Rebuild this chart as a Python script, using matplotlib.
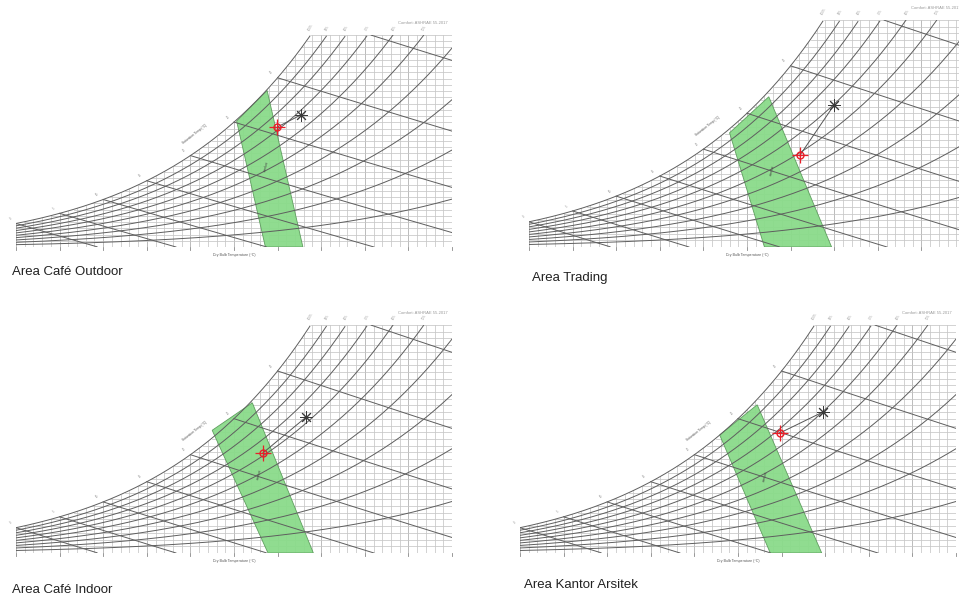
import numpy as np
import matplotlib
matplotlib.use("Agg")
import matplotlib.pyplot as plt

# --- values (dry bulb degC, humidity ratio g/kg)
captions = ["Area Café Outdoor", "Area Trading", "Area Café Indoor", "Area Kantor Arsitek"]
zone_t = [[25.3, 28.8, 32.9, 28.6],
          [23.0, 27.5, 34.7, 27.0],
          [22.5, 27.1, 34.1, 28.9],
          [22.9, 27.2, 34.6, 28.7]]
zone_w = [[20.2, 25.1, 0.0, 0.0],
          [17.1, 22.5, 0.0, 0.0],
          [18.3, 22.4, 0.0, 0.0],
          [17.6, 22.1, 0.0, 0.0]]
red_t = [29.9, 31.1, 28.3, 29.8]
red_w = [19.2, 13.8, 14.9, 17.9]
black_t = [32.7, 35.0, 33.3, 34.7]
black_w = [21.2, 21.3, 20.3, 21.0]

title = "Comfort: ASHRAE 55-2017"
xlabel = "Dry Bulb Temperature (°C)"
sat_label = "Saturation Temp (°C)"

T_MIN, T_MAX, W_MAX = 0, 50, 34
rh_levels = [10, 20, 30, 40, 50, 60, 70, 80, 90, 100]
wb_levels = [0, 5, 10, 15, 20, 25, 30, 35]

# panel boxes in pixels: left, bottom, top
boxes = [(16, 247, 35), (529, 247, 20), (16, 553, 325), (520, 553, 325)]
cap_pos = [(12, 272), (532, 278), (12, 590), (524, 585)]
PW = 436

W_FIG, H_FIG = 959, 598
fig = plt.figure(figsize=(W_FIG / 100, H_FIG / 100), dpi=100)
plt.rcParams['font.family'] = ['Liberation Sans', 'DejaVu Sans']


def psat(t):
    return 0.61094 * np.exp(17.625 * t / (t + 243.04))


def hum(t, rh):
    p = rh / 100.0 * psat(t)
    return 622.0 * p / (101.325 - p)


def wb_line(t, twb):
    ws = hum(twb, 100) / 1000.0
    w = ((2501 - 2.326 * twb) * ws - 1.006 * (t - twb)) / (2501 + 1.86 * t - 4.186 * twb)
    return w * 1000.0


tt = np.linspace(T_MIN, T_MAX, 400)
wsat = hum(tt, 100)
GRID = '#c6c6c6'
DARK = '#5e5e5e'

for i in range(4):
    l, b, t = boxes[i]
    ax = fig.add_axes([l / W_FIG, 1 - b / H_FIG, PW / W_FIG, (b - t) / H_FIG])
    ax.set_xlim(T_MIN, T_MAX)
    ax.set_ylim(0, W_MAX)
    for s in ax.spines.values():
        s.set_visible(False)
    ax.set_xticks([])
    ax.set_yticks([])

    # light grid: dry bulb lines and humidity ratio lines, clipped by saturation
    for x in range(T_MIN, T_MAX + 1):
        top = min(hum(x, 100), W_MAX)
        c = GRID if x % 5 else '#aaaaaa'
        ax.plot([x, x], [0, top], color=c, lw=0.55, zorder=1)
    for y in range(1, W_MAX + 1):
        ts = tt[np.argmax(wsat >= y)] if wsat.max() >= y else T_MAX
        ax.plot([ts, T_MAX], [y, y], color=GRID, lw=0.55, zorder=1)
    ax.plot([T_MAX, T_MAX], [0, W_MAX], color='#999999', lw=0.6, zorder=1)
    ax.plot([T_MIN, T_MAX], [0, 0], color='#bbbbbb', lw=0.6, zorder=1)

    # relative humidity curves
    for rh in rh_levels:
        w = hum(tt, rh)
        m = w <= W_MAX
        ax.plot(tt[m], w[m], color=DARK, lw=0.7, zorder=3)
        j = np.argmax(~m) if (~m).any() else None
        if j:
            ax.text(tt[j], W_MAX + 0.6, f"{rh}%", fontsize=2, color='#999999',
                    ha='center', va='bottom', rotation=60)

    # wet bulb lines
    for twb in wb_levels:
        x = np.linspace(twb, T_MAX, 200)
        w = wb_line(x, twb)
        m = (w <= W_MAX) & (w >= 0)
        ax.plot(x[m], w[m], color=DARK, lw=0.7, zorder=3)
        if hum(twb, 100) < W_MAX:
            ax.text(twb - 0.4, hum(twb, 100) + 0.4, str(twb), fontsize=2,
                    color='#888888', ha='right', va='bottom', rotation=40)

    for x in range(T_MIN, T_MAX + 1, 5):
        ax.plot([x, x], [0, -0.5], color='#888888', lw=0.6, clip_on=False)

    # comfort zone
    ax.fill(zone_t[i], zone_w[i], facecolor='#8adb8a', edgecolor='#5a9a5a',
            lw=0.6, alpha=0.95, zorder=2)
    cx = np.mean(zone_t[i])
    ax.text(cx - 0.2, np.mean(zone_w[i]) + 1.5, "comfort", fontsize=2.3,
            color='#444444', rotation=75, ha='center', va='center', zorder=4)

    # state points
    ax.plot([red_t[i], black_t[i]], [red_w[i], black_w[i]], color='#555555',
            lw=0.7, zorder=5)
    ax.plot(black_t[i], black_w[i], marker=(8, 2, 0), ms=9, color='#3a3a3a',
            mew=0.7, zorder=6)
    ax.plot(red_t[i], red_w[i], marker='o', ms=5, mfc='none', mec='#e8202a',
            mew=1.0, zorder=6)
    ax.plot(red_t[i], red_w[i], marker='+', ms=11, color='#e8202a', mew=0.9,
            zorder=6)

    ax.text(0.99, 1 + 12 / (b - t), title, transform=ax.transAxes, fontsize=3,
            color='#999999', ha='right', va='center')
    ax.text(0.5, -8 / (b - t), xlabel, transform=ax.transAxes, fontsize=2.6,
            color='#555555', ha='center', va='center')
    ax.text(20.5, hum(20.5, 100) + 3.0, sat_label, fontsize=2.3, color='#555555',
            rotation=38, ha='center', va='center')

    cx, cy = cap_pos[i]
    fig.text(cx / W_FIG, 1 - cy / H_FIG, captions[i], fontsize=9.5,
             color='#222222', ha='left', va='center')

fig.savefig("out.png", dpi=100, facecolor='white')
